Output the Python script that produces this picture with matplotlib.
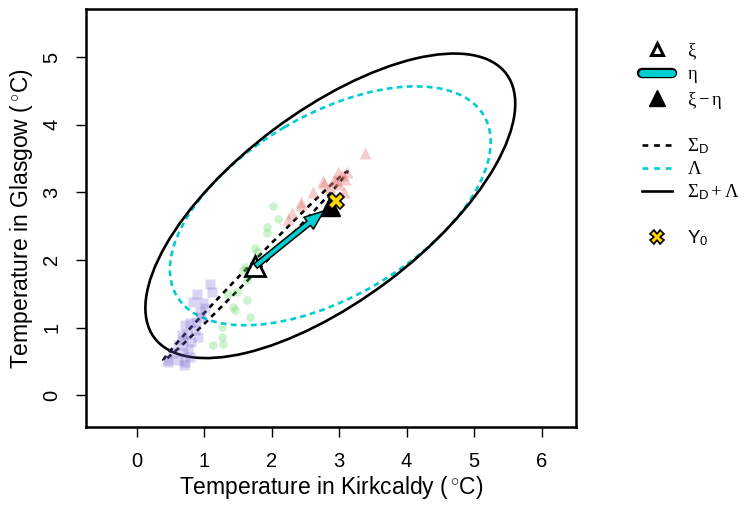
import numpy as np
import matplotlib
matplotlib.use('Agg')
import matplotlib.pyplot as plt
import matplotlib.patheffects as pe
from matplotlib.lines import Line2D
from matplotlib.patches import FancyArrowPatch, Ellipse

plt.rcParams['font.family'] = ['Liberation Sans', 'DejaVu Sans']
plt.rcParams['mathtext.fontset'] = 'custom'
plt.rcParams['mathtext.rm'] = 'Liberation Serif'
plt.rcParams['mathtext.it'] = 'Liberation Serif'
plt.rcParams['mathtext.sf'] = 'Liberation Sans'

# data
purple_x = [1.09, 1.11, 0.89, 0.84, 0.99, 0.94, 0.96, 0.88, 0.79, 0.72, 0.86, 0.74, 0.91,
            0.69, 0.81, 0.62, 0.76, 0.69, 0.54, 0.47, 0.62, 0.72, 0.79, 0.67, 1.02, 0.46, 0.70]
purple_y = [1.65, 1.53, 1.50, 1.38, 1.36, 1.23, 1.16, 1.08, 1.06, 1.04, 0.96, 0.91, 0.86,
            0.81, 0.79, 0.74, 0.69, 0.64, 0.62, 0.52, 0.52, 0.49, 0.57, 0.89, 1.29, 0.49, 0.44]
green_x = [2.02, 2.10, 1.93, 1.93, 1.75, 1.78, 1.58, 1.63, 1.48, 1.36, 1.63, 1.43, 1.46,
           1.68, 1.26, 1.26, 1.28, 1.13, 1.60]
green_y = [2.79, 2.61, 2.49, 2.40, 2.17, 2.12, 1.85, 1.70, 1.53, 1.50, 1.41, 1.31, 1.26,
           1.16, 1.01, 0.86, 0.76, 0.74, 1.90]
pink_x = [3.38, 3.11, 3.04, 2.99, 3.09, 2.96, 2.76, 2.62, 2.44, 2.30, 2.25, 2.86, 3.00,
          2.92, 2.78, 2.43, 3.08]
pink_y = [3.58, 3.30, 3.25, 3.30, 3.20, 3.18, 3.16, 3.01, 2.81, 2.69, 2.61, 3.08, 3.12,
          3.18, 3.14, 2.86, 3.00]

xi = [1.76, 1.91]
xi_minus_eta = [2.87, 2.80]
y0 = [2.96, 2.87]

Sigma_D = np.array([[1.86, 1.90], [1.90, 1.95]])
Lambda = np.array([[5.65, 2.24], [2.24, 3.12]])

cyan = '#00CDCD'


def cov_ellipse(centre, cov, **kw):
    vals, vecs = np.linalg.eigh(cov)
    angle = np.degrees(np.arctan2(vecs[1, 1], vecs[0, 1]))
    return Ellipse(centre, 2 * np.sqrt(vals[1]), 2 * np.sqrt(vals[0]), angle=angle,
                   fill=False, **kw)


fig = plt.figure(figsize=(7.48, 5.05), dpi=100)
ax = fig.add_axes([0.115, 0.1545, 0.655, 0.827])

ax.plot(purple_x, purple_y, 's', ms=6.6, color='#6A5ACD', alpha=0.25, mec='none')
ax.plot(green_x, green_y, 'o', ms=6.2, color='#5ED35E', alpha=0.3, mec='none')
ax.plot(pink_x, pink_y, '^', ms=8, color='#E07070', alpha=0.35, mec='none')

ax.add_patch(cov_ellipse(xi, Sigma_D, ec='black', lw=1.9, ls=(0, (2.0, 1.8))))
ax.add_patch(cov_ellipse(xi_minus_eta, Lambda, ec=cyan, lw=1.9, ls=(0, (2.2, 1.6))))
ax.add_patch(cov_ellipse(xi_minus_eta, Sigma_D + Lambda, ec='black', lw=1.9))

ax.plot(*xi, '^', ms=15, mfc='white', mec='black', mew=2)
ax.plot(*xi_minus_eta, '^', ms=15, color='black')
arrow = FancyArrowPatch(xi, xi_minus_eta, arrowstyle='simple,head_length=14,head_width=11,tail_width=4',
                        mutation_scale=1, fc=cyan, ec='black', lw=1.1, shrinkA=0, shrinkB=6, zorder=5)
ax.add_patch(arrow)
ax.plot(*y0, 'X', ms=12, mfc='#FFD700', mec='black', mew=1.2, zorder=6)

ax.set_xlim(-0.75, 6.51)
ax.set_ylim(-0.47, 5.705)
ax.set_xticks(range(0, 7))
ax.set_yticks(range(0, 6))
ax.tick_params(length=7, width=1, labelsize=14.5, pad=11)
ax.tick_params(axis='y', labelrotation=90)
for lab in ax.get_yticklabels():
    lab.set_va('center')
for s in ax.spines.values():
    s.set_linewidth(1.8)
ax.set_xlabel(r'Temperature in Kirkcaldy ($\,^{\circ}$C)', fontsize=16.5, labelpad=2)
ax.set_ylabel(r'Temperature in Glasgow ($\,^{\circ}$C)', fontsize=16.5, labelpad=5)

# legend
blank = Line2D([], [], ls='none')
handles = [
    Line2D([], [], ls='none', marker='^', ms=9, mfc='white', mec='black', mew=2.2),
    Line2D([], [], color=cyan, lw=5, solid_capstyle='round',
           path_effects=[pe.Stroke(linewidth=7.5, foreground='black'), pe.Normal()]),
    Line2D([], [], ls='none', marker='^', ms=11, color='black'),
    blank,
    Line2D([], [], color='black', lw=1.9, ls=(0, (2.2, 2.2))),
    Line2D([], [], color=cyan, lw=1.9, ls=(0, (2.2, 2.2))),
    Line2D([], [], color='black', lw=1.9),
    blank,
    Line2D([], [], ls='none', marker='X', ms=10, mfc='#FFD700', mec='black', mew=1.2),
]
labels = [r'$\xi$', r'$\eta$', r'$\xi - \eta$', ' ',
          r'$\Sigma_{\mathsf{D}}$', r'$\Lambda$', r'$\Sigma_{\mathsf{D}} + \Lambda$', ' ',
          r'$\mathsf{Y}_{\mathsf{0}}$']
fig.legend(handles, labels, loc='upper left', bbox_to_anchor=(0.848, 0.934), frameon=False,
           fontsize=13.5, handlelength=1.6, handletextpad=0.8, labelspacing=0.24,
           borderaxespad=0)

fig.savefig('out.png', dpi=100)
